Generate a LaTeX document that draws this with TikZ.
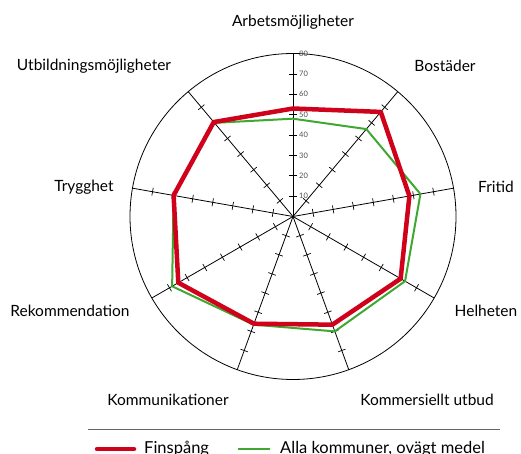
\documentclass[tikz,border=0pt]{standalone}
\usepackage{fontspec}
\setmainfont{Lato}
\usetikzlibrary{positioning}

\definecolor{finred}{RGB}{208,2,27}
\definecolor{allgreen}{RGB}{62,168,48}

\begin{document}
\begin{tikzpicture}[x=1pt, y=1pt]
	\tikzset{axis/.style={black, line width=0.8pt}, tick/.style={black, line width=0.7pt},
		lbl/.style={font=\fontsize{15.5}{18}\selectfont, inner sep=0pt},
		leglbl/.style={font=\fontsize{16.5}{19}\selectfont, inner sep=0pt, anchor=west},
		ticklbl/.style={font=\fontsize{7.5}{8}\selectfont, text=black!70, inner sep=0pt, anchor=west},
		finsp/.style={finred, line width=4.5pt, line join=round},
		medel/.style={allgreen, line width=2pt, line join=round},
		legline/.style={black!60, line width=1pt}}

	\useasboundingbox (0,0) rectangle (521,454);

	\coordinate (c) at (293,237.5);

	\begin{scope}[shift={(c)}]
		\draw[axis] (0,0) circle (163);

		% axes with ticks every 10 (80 = 163pt)
		\foreach \a [count=\i] in {90,50,...,-230} {
			\draw[axis] (0,0) -- (\a:163) coordinate (ax\i);
			\foreach \v in {1,...,7}
				\draw[tick, rotate=\a] (\v*20.375,-4) -- (\v*20.375,4);
		}

		% scale on the top axis
		\foreach \v in {1,...,8}
			\node[ticklbl] (t\v) at (6,\v*20.375) {\v0};

		% data points
		\foreach \r [count=\i] in {48,56,63.5,63.5,60,56.5,68.5,59.5,60}
			\coordinate (m\i) at ({90-40*(\i-1)}:{\r*2.0375});
		\foreach \r [count=\i] in {53,67,58,61,56.5,56,65,59.5,60.5}
			\coordinate (f\i) at ({90-40*(\i-1)}:{\r*2.0375});

		\draw[medel] (m1) -- (m2) -- (m3) -- (m4) -- (m5) -- (m6) -- (m7) -- (m8) -- (m9) -- cycle;
		\draw[finsp] (f1) -- (f2) -- (f3) -- (f4) -- (f5) -- (f6) -- (f7) -- (f8) -- (f9) -- cycle;
	\end{scope}

	% axis names
	\node[lbl] (arb) at (293,432) {Arbetsmöjligheter};
	\node[lbl] (bos) at (445,388) {Bostäder};
	\node[lbl] (fri) at (496,267) {Fritid};
	\node[lbl] (hel) at (486,143) {Helheten};
	\node[lbl] (kom) at (427,54) {Kommersiellt utbud};
	\node[lbl] (kmn) at (168,54) {Kommunikationer};
	\node[lbl] (rek) at (70,143) {Rekommendation};
	\node[lbl] (try) at (84,267) {Trygghet};
	\node[lbl] (utb) at (94,388) {Utbildningsmöjligheter};

	% legend
	\coordinate (lg1) at (88,24);
	\coordinate (lg2) at (500,24);
	\draw[legline] (lg1) -- (lg2);
	\coordinate (r1) at (97,5);
	\coordinate (r2) at (134,5);
	\draw[finred, line width=4.5pt, line cap=round] (r1) -- (r2);
	\node[leglbl] (lfin) at (144,5) {Finspång};
	\coordinate (g1) at (238,5);
	\coordinate (g2) at (270,5);
	\draw[allgreen, line width=2pt] (g1) -- (g2);
	\node[leglbl] (lmed) at (280,5) {Alla kommuner, ovägt medel};
\end{tikzpicture}
\end{document}
